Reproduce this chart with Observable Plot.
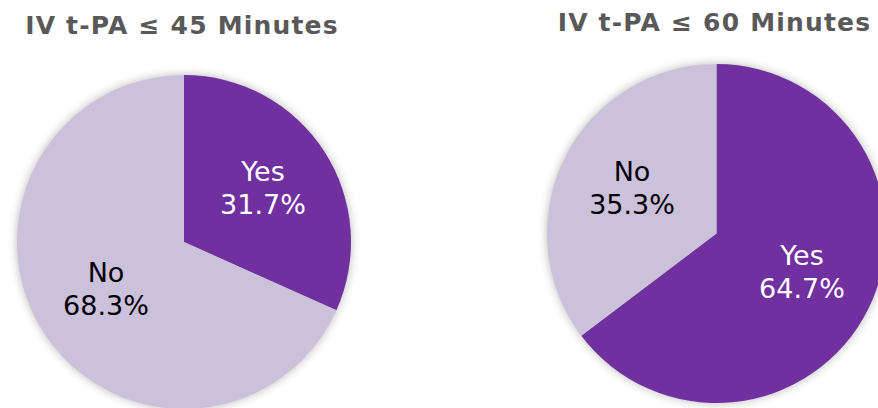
<!DOCTYPE html>
<html>
<head>
<meta charset="utf-8">
<script src="https://cdn.jsdelivr.net/npm/d3@7"></script>
<script src="https://cdn.jsdelivr.net/npm/@observablehq/plot@0.6"></script>
<style>
  html, body { margin: 0; padding: 0; background: #fff; }
  #chart { position: relative; width: 878px; height: 408px; overflow: hidden; }
  .pie { position: absolute; left: 0; top: 0; }
  .title { position: absolute; width: 420px; text-align: center; font-family: "DejaVu Sans", Verdana, sans-serif;
           font-weight: bold; font-size: 25px; line-height: 30px; letter-spacing: 1.2px; color: #595959; white-space: nowrap; }
</style>
</head>
<body>
<div id="chart"></div>
<script>
// ---- data ----
const titles = ["IV t-PA ≤ 45 Minutes", "IV t-PA ≤ 60 Minutes"];
const categories = ["Yes", "No"];
const yesPct = [31.7, 64.7];
const noPct = [68.3, 35.3];
const sliceColors = ["#7030A0", "#CCC1DA"];
const labelColors = ["#FFFFFF", "#000000"];

// ---- layout ----
const layout = [
  {cx: 184, cy: 242, r: 167, titleBaseline: 35},
  {cx: 716.5, cy: 233.5, r: 169.5, titleBaseline: 31.5}
];

const chart = document.getElementById("chart");

titles.forEach((t, i) => {
  const L = layout[i];
  const seriesVals = [yesPct, noPct];
  const rows = categories.map((c, k) => ({category: c, value: seriesVals[k][i], idx: k}));
  const total = d3.sum(rows, d => d.value);
  let acc = 0;
  rows.forEach(d => {
    d.a0 = acc / total * 2 * Math.PI;
    acc += d.value;
    d.a1 = acc / total * 2 * Math.PI;
    const m = (d.a0 + d.a1) / 2;
    d.lx = 0.56 * Math.sin(m);
    d.ly = 0.56 * Math.cos(m);
  });

  const pieRender = (index, scales) => {
    const x = scales.x, y = scales.y;
    const cx = x(0), cy = y(0), r = x(1) - x(0);
    const g = d3.create("svg:g")
      .attr("transform", `translate(${cx},${cy})`)
      .style("filter", "drop-shadow(0px 0px 5px rgba(0,0,0,0.28))");
    const arc = d3.arc().innerRadius(0).outerRadius(r);
    g.selectAll("path").data(rows).join("path")
      .attr("d", d => arc({startAngle: d.a0, endAngle: d.a1}))
      .attr("fill", d => sliceColors[d.idx]);
    return g.node();
  };

  const plot = Plot.plot({
    width: 878,
    height: 408,
    margin: 0,
    x: {domain: [-1, 1], range: [L.cx - L.r, L.cx + L.r], axis: null},
    y: {domain: [-1, 1], range: [L.cy + L.r, L.cy - L.r], axis: null},
    style: {background: "transparent", overflow: "visible"},
    marks: [
      pieRender,
      Plot.text(rows, {
        x: "lx", y: "ly", dy: -5,
        text: d => `${d.category}\n${d.value.toFixed(1)}%`,
        fill: d => labelColors[d.idx],
        fontSize: 27, lineHeight: 1.22,
        fontFamily: "DejaVu Sans, Verdana, sans-serif"
      })
    ]
  });
  plot.classList.add("pie");
  chart.appendChild(plot);

  const div = document.createElement("div");
  div.className = "title";
  div.textContent = t;
  div.style.left = (L.cx - 212) + "px";
  div.style.top = (L.titleBaseline - 23.7) + "px";
  chart.appendChild(div);
});
</script>
</body>
</html>
